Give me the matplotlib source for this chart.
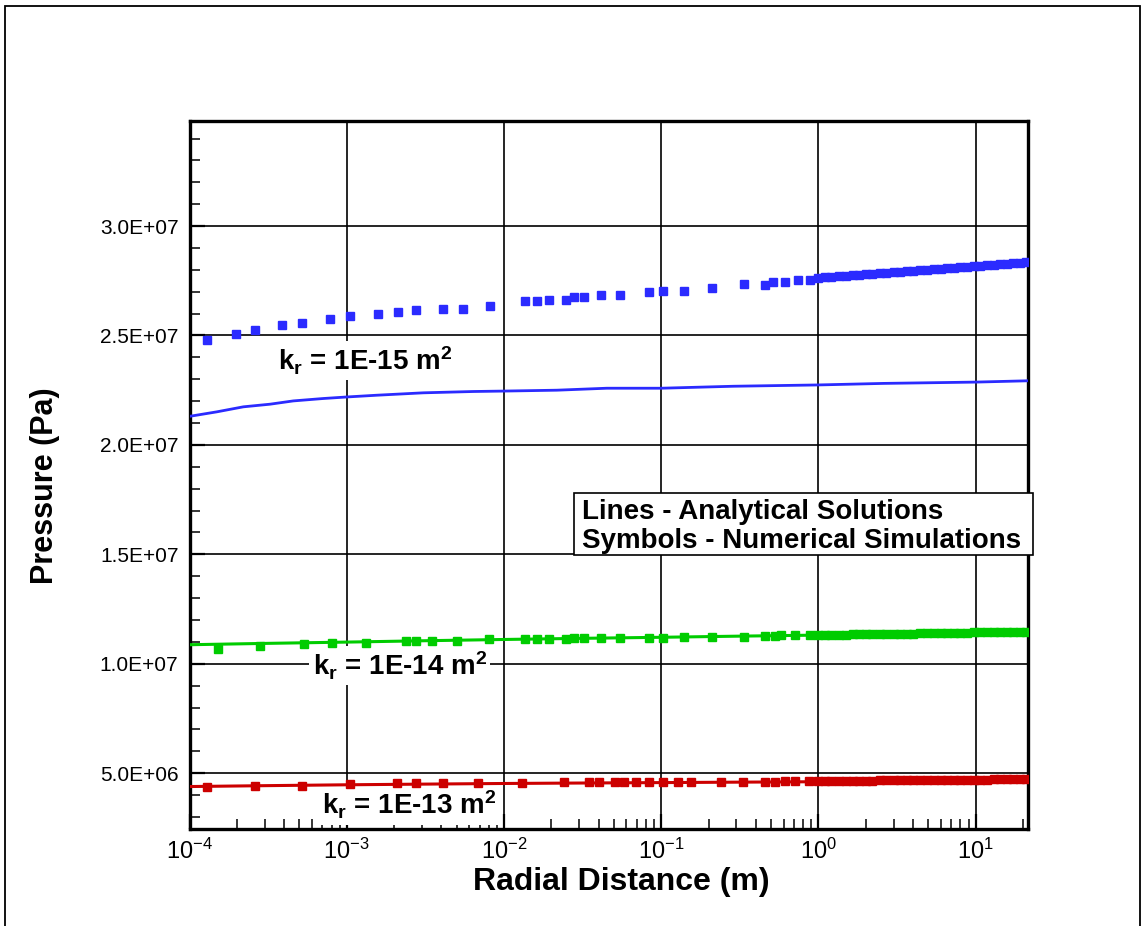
import matplotlib
matplotlib.use("Agg")
import matplotlib.pyplot as plt
from matplotlib.ticker import MultipleLocator, LogLocator, FuncFormatter, LogFormatterSciNotation, NullFormatter
from matplotlib.patches import Rectangle

plt.rcParams['font.family'] = ['Liberation Sans', 'DejaVu Sans']
plt.rcParams['mathtext.fontset'] = 'custom'
plt.rcParams['mathtext.rm'] = 'Liberation Sans'
plt.rcParams['mathtext.it'] = 'Liberation Sans:italic'
plt.rcParams['mathtext.bf'] = 'Liberation Sans:bold'
plt.rcParams['axes.unicode_minus'] = False

# ---------------- data ----------------
# k = 1E-15 m2 (blue)
blue_line_x = [1.01e-4, 1.49e-4, 2.20e-4, 3.25e-4, 4.57e-4, 7.09e-4, 1.0e-3, 1.55e-3, 3.07e-3,
               6.38e-3, 1.0e-2, 2.17e-2, 4.51e-2, 0.1, 0.287, 1.0, 2.58, 10.0, 21.5]
blue_line_y = [2.131e7, 2.151e7, 2.174e7, 2.186e7, 2.201e7, 2.212e7, 2.219e7, 2.227e7, 2.238e7,
               2.244e7, 2.246e7, 2.250e7, 2.259e7, 2.259e7, 2.268e7, 2.274e7, 2.281e7, 2.287e7, 2.293e7]
blue_sym_x = [1.29e-4, 1.97e-4, 2.61e-4, 3.88e-4, 5.17e-4, 7.83e-4, 1.05e-3, 1.57e-3, 2.12e-3,
              2.76e-3, 4.10e-3, 5.47e-3, 8.13e-3, 1.36e-2, 1.63e-2, 1.92e-2, 2.48e-2, 2.79e-2,
              3.25e-2, 4.13e-2, 5.50e-2, 8.37e-2, 0.102, 0.139, 0.211, 0.335, 0.458, 0.513,
              0.608, 0.740, 0.885,
              1.0, 1.1, 1.2, 1.35, 1.5, 1.65, 1.8, 2.0, 2.2, 2.45, 2.7, 3.0, 3.3, 3.65, 4.0,
              4.4, 4.9, 5.4, 6.0, 6.6, 7.3, 8.0, 8.8, 9.7, 10.7, 11.8, 13.0, 14.3, 15.7, 17.3,
              19.0, 21.0]
blue_sym_y = [2.479e7, 2.506e7, 2.524e7, 2.546e7, 2.555e7, 2.575e7, 2.588e7, 2.596e7, 2.608e7,
              2.616e7, 2.620e7, 2.620e7, 2.636e7, 2.657e7, 2.657e7, 2.663e7, 2.663e7, 2.677e7,
              2.677e7, 2.686e7, 2.686e7, 2.698e7, 2.704e7, 2.704e7, 2.718e7, 2.733e7, 2.730e7,
              2.745e7, 2.745e7, 2.753e7, 2.753e7,
              2.763e7, 2.766e7, 2.768e7, 2.770e7, 2.773e7, 2.775e7, 2.777e7, 2.780e7, 2.782e7,
              2.784e7, 2.787e7, 2.789e7, 2.791e7, 2.794e7, 2.796e7, 2.798e7, 2.801e7, 2.803e7,
              2.805e7, 2.808e7, 2.810e7, 2.812e7, 2.814e7, 2.817e7, 2.819e7, 2.821e7, 2.824e7,
              2.826e7, 2.828e7, 2.830e7, 2.833e7, 2.835e7]

# k = 1E-14 m2 (green)
green_line_x = [1e-4, 3e-4, 1e-3, 3e-3, 1e-2, 3e-2, 0.1, 0.3, 1.0, 3.0, 10.0, 21.5]
green_line_y = [1.087e7, 1.093e7, 1.099e7, 1.105e7, 1.111e7, 1.116e7, 1.121e7, 1.126e7,
                1.131e7, 1.135e7, 1.140e7, 1.145e7]
green_sym_x = [1.51e-4, 2.81e-4, 5.35e-4, 8.03e-4, 1.33e-3, 2.37e-3, 2.75e-3, 3.51e-3, 5.06e-3,
               8.08e-3, 1.36e-2, 1.63e-2, 1.92e-2, 2.48e-2, 2.79e-2, 3.25e-2, 4.13e-2, 5.50e-2,
               8.37e-2, 0.102, 0.139, 0.211, 0.335, 0.458, 0.53, 0.58, 0.71, 0.88,
               1.0, 1.1, 1.2, 1.35, 1.5, 1.65, 1.8, 2.0, 2.2, 2.45, 2.7, 3.0, 3.3, 3.65, 4.0,
               4.4, 4.9, 5.4, 6.0, 6.6, 7.3, 8.0, 8.8, 9.7, 10.7, 11.8, 13.0, 14.3, 15.7, 17.3,
               19.0, 21.0]
green_sym_y = [1.069e7, 1.081e7, 1.089e7, 1.096e7, 1.096e7, 1.104e7, 1.104e7, 1.104e7, 1.104e7,
               1.112e7, 1.112e7, 1.112e7, 1.115e7, 1.115e7, 1.117e7, 1.117e7, 1.117e7, 1.119e7,
               1.120e7, 1.120e7, 1.121e7, 1.122e7, 1.122e7, 1.125e7, 1.125e7, 1.130e7, 1.130e7,
               1.130e7,
               1.131e7, 1.132e7, 1.132e7, 1.133e7, 1.133e7, 1.134e7, 1.134e7, 1.135e7, 1.135e7,
               1.136e7, 1.136e7, 1.137e7, 1.137e7, 1.138e7, 1.138e7, 1.139e7, 1.139e7, 1.140e7,
               1.140e7, 1.141e7, 1.141e7, 1.142e7, 1.142e7, 1.143e7, 1.143e7, 1.144e7, 1.144e7,
               1.145e7, 1.145e7, 1.146e7, 1.146e7, 1.147e7]

# k = 1E-13 m2 (red)
red_line_x = [1e-4, 3e-4, 1e-3, 3e-3, 1e-2, 3e-2, 0.1, 0.3, 1.0, 3.0, 10.0, 21.5]
red_line_y = [4.39e6, 4.43e6, 4.47e6, 4.50e6, 4.53e6, 4.55e6, 4.57e6, 4.59e6, 4.61e6,
              4.63e6, 4.66e6, 4.68e6]
red_sym_x = [1.30e-4, 2.61e-4, 5.20e-4, 1.05e-3, 2.08e-3, 2.76e-3, 4.12e-3, 6.81e-3, 1.30e-2,
             2.4e-2, 3.45e-2, 4.0e-2, 5.1e-2, 5.8e-2, 6.9e-2, 8.4e-2, 0.102, 0.127, 0.155,
             0.240, 0.333, 0.46, 0.53, 0.61, 0.71, 0.87,
             1.0, 1.1, 1.2, 1.35, 1.5, 1.65, 1.8, 2.0, 2.2, 2.45, 2.7, 3.0, 3.3, 3.65, 4.0,
             4.4, 4.9, 5.4, 6.0, 6.6, 7.3, 8.0, 8.8, 9.7, 10.7, 11.8, 13.0, 14.3, 15.7, 17.3,
             19.0, 21.0]
red_sym_y = [4.36e6, 4.41e6, 4.41e6, 4.49e6, 4.55e6, 4.55e6, 4.55e6, 4.55e6, 4.55e6,
             4.58e6, 4.58e6, 4.59e6, 4.59e6, 4.59e6, 4.60e6, 4.60e6, 4.60e6, 4.60e6, 4.61e6,
             4.61e6, 4.62e6, 4.62e6, 4.62e6, 4.63e6, 4.63e6, 4.63e6,
             4.64e6, 4.64e6, 4.64e6, 4.65e6, 4.65e6, 4.65e6, 4.66e6, 4.66e6, 4.66e6, 4.67e6,
             4.67e6, 4.67e6, 4.68e6, 4.68e6, 4.68e6, 4.69e6, 4.69e6, 4.69e6, 4.70e6, 4.70e6,
             4.70e6, 4.70e6, 4.71e6, 4.71e6, 4.71e6, 4.71e6, 4.72e6, 4.72e6, 4.72e6, 4.72e6,
             4.73e6, 4.73e6]

curve_labels = [r'k$_{\mathbf{r}}$ = 1E-15 m$^{\mathbf{2}}$',
                r'k$_{\mathbf{r}}$ = 1E-14 m$^{\mathbf{2}}$',
                r'k$_{\mathbf{r}}$ = 1E-13 m$^{\mathbf{2}}$']
note_lines = ['Lines - Analytical Solutions', 'Symbols - Numerical Simulations']
x_label = 'Radial Distance (m)'
y_label = 'Pressure (Pa)'

BLUE = '#2B2BFF'
GREEN = '#00CC00'
RED = '#CC0000'

# ---------------- figure ----------------
fig = plt.figure(figsize=(11.45, 9.26), dpi=100)
ax = fig.add_axes([189.5 / 1145, 1 - 829 / 926, 838.5 / 1145, 708 / 926])

ms = 6.2
ax.plot(blue_line_x, blue_line_y, color=BLUE, lw=2.0, zorder=3)
ax.plot(blue_sym_x, blue_sym_y, ls='none', marker='s', ms=ms, color=BLUE, mec=BLUE, zorder=4)
ax.plot(green_line_x, green_line_y, color=GREEN, lw=2.2, zorder=3)
ax.plot(green_sym_x, green_sym_y, ls='none', marker='s', ms=ms, color=GREEN, mec=GREEN, zorder=4)
ax.plot(red_line_x, red_line_y, color=RED, lw=2.2, zorder=3)
ax.plot(red_sym_x, red_sym_y, ls='none', marker='s', ms=ms, color=RED, mec=RED, zorder=4)

ax.set_xscale('log')
ax.set_xlim(1e-4, 21.5)
ax.set_ylim(2.45e6, 3.48e7)

ax.yaxis.set_major_locator(MultipleLocator(5e6))
ax.yaxis.set_minor_locator(MultipleLocator(1e6))
ax.yaxis.set_major_formatter(FuncFormatter(lambda v, p: f"{v:.1E}"))
ax.xaxis.set_major_locator(LogLocator(base=10, numticks=20))
ax.xaxis.set_minor_locator(LogLocator(base=10, subs=range(2, 10), numticks=20))
ax.xaxis.set_major_formatter(LogFormatterSciNotation())
ax.xaxis.set_minor_formatter(NullFormatter())

ax.tick_params(which='both', direction='in', top=False, right=False, colors='black')
ax.tick_params(which='major', length=11, width=1.6, labelsize=15, pad=8)
ax.tick_params(axis='x', which='major', pad=7, labelsize=17)
ax.tick_params(which='minor', length=7, width=1.1)

for s in ax.spines.values():
    s.set_linewidth(2.4)
    s.set_color('black')

ax.set_axisbelow(True)
ax.grid(True, which='major', color='black', lw=1.2)

# curve labels
label_pos = [(0.1055, 0.648), (0.147, 0.2175), (0.158, 0.0198)]
for txt, (lx, ly) in zip(curve_labels, label_pos):
    ax.text(lx, ly, txt, transform=ax.transAxes, fontsize=20, fontweight='bold',
            ha='left', va='baseline', zorder=2,
            bbox=dict(boxstyle='square,pad=0.12', facecolor='white', edgecolor='none'))

# note box
fig.patches.append(Rectangle((574 / 1145, 1 - 555 / 926), 459 / 1145, 62 / 926,
                             transform=fig.transFigure, facecolor='white',
                             edgecolor='black', lw=1.2, zorder=5))
fig.text(582 / 1145, 1 - 519 / 926, note_lines[0], fontsize=20, fontweight='bold',
         ha='left', va='baseline', zorder=6)
fig.text(582 / 1145, 1 - 548 / 926, note_lines[1], fontsize=20, fontweight='bold',
         ha='left', va='baseline', zorder=6)

# axis titles
fig.text(621 / 1145, 1 - 882 / 926, x_label, fontsize=23, fontweight='bold',
         ha='center', va='center')
fig.text(45 / 1145, 1 - 486 / 926, y_label, fontsize=22, fontweight='bold',
         ha='center', va='center', rotation=90)

# outer frame
fig.patches.append(Rectangle((5 / 1145, -0.02), 1135 / 1145, 1.02 - 6 / 926,
                             transform=fig.transFigure, fill=False,
                             edgecolor='black', lw=1.3, zorder=10))

fig.savefig('out.png', dpi=100)
